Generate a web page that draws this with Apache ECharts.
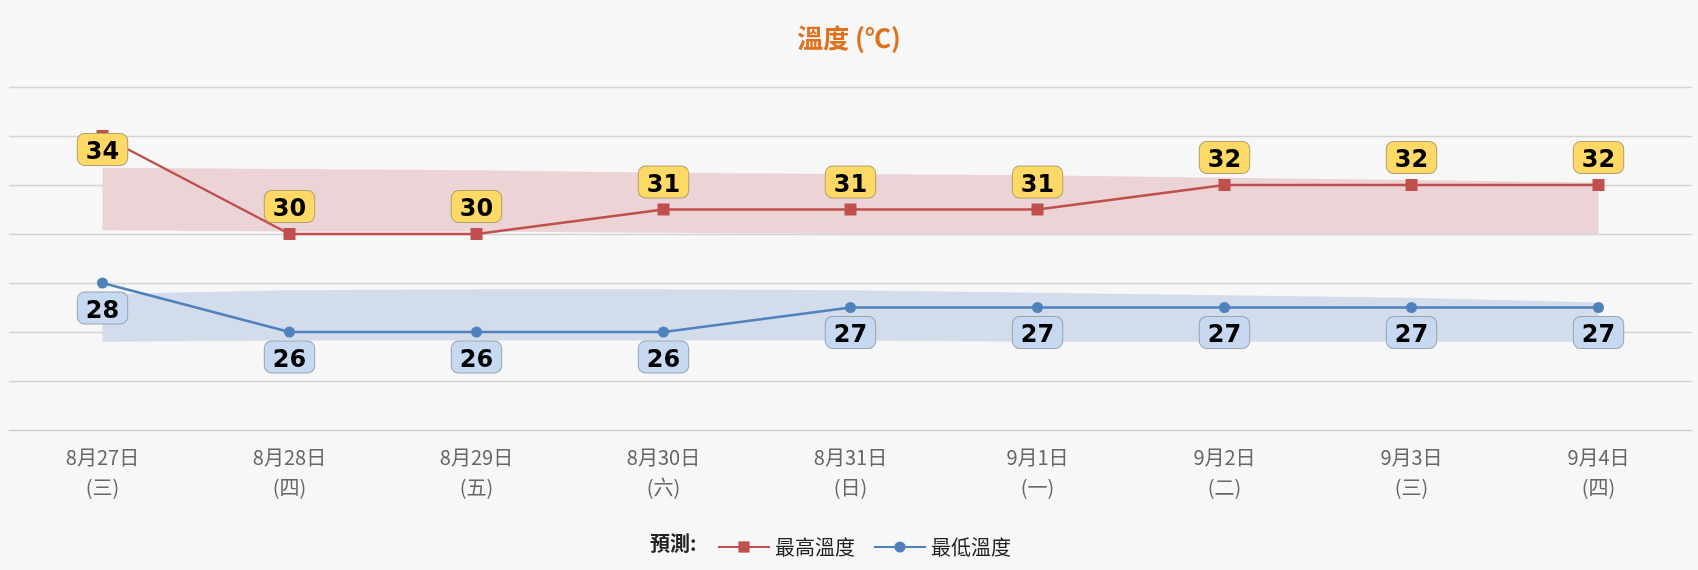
<!DOCTYPE html><html><head><meta charset="utf-8">
<script src="https://cdn.jsdelivr.net/npm/echarts@6/dist/echarts.min.js"></script>
<style>html,body{margin:0;background:#f7f7f7}#c{width:1698px;height:570px}</style></head><body><div id="c"></div>
<script>
const categories=['8月27日\n(三)','8月28日\n(四)','8月29日\n(五)','8月30日\n(六)','8月31日\n(日)','9月1日\n(一)','9月2日\n(二)','9月3日\n(三)','9月4日\n(四)'];
const maxTemp=[34,30,30,31,31,31,32,32,32];
const minTemp=[28,26,26,26,27,27,27,27,27];
const maxRangeHigh=[32.7,32.65,32.6,32.5,32.45,32.4,32.3,32.2,32.1];
const maxRangeLow=[30.15,30.1,30.1,30.05,30,30,30,30,30];
const minRangeHigh=[27.55,27.7,27.75,27.75,27.7,27.6,27.5,27.4,27.2];
const minRangeLow=[25.6,25.65,25.65,25.65,25.65,25.6,25.6,25.6,25.6];
const font='"Noto Sans CJK TC","Noto Sans",sans-serif';
const ch=echarts.init(document.getElementById('c'));
function band(low,high,color,stack){return [
 {type:'line',stack:stack,data:low,symbol:'none',lineStyle:{opacity:0},silent:true,z:1},
 {type:'line',stack:stack,data:high.map((v,i)=>+(v-low[i]).toFixed(2)),symbol:'none',lineStyle:{opacity:0},areaStyle:{color:color,opacity:1},silent:true,z:1}];}
const lbl={color:'#000',fontSize:24,fontWeight:'bold',fontFamily:'"DejaVu Sans",sans-serif',borderWidth:1,borderRadius:7,padding:[7,8,0,8]};
ch.setOption({
 backgroundColor:'#f7f7f7',
 title:{text:'溫度 (℃)',left:'center',top:20,textStyle:{color:'#e0701c',fontSize:26,fontWeight:'bold',fontFamily:font}},
 grid:{left:9,right:6,top:87,bottom:140},
 graphic:[{type:'text',left:650,top:533,style:{text:'預測:',font:'bold 20px '+font,fill:'#222'}}],
 legend:{top:532,left:712,itemWidth:52,itemHeight:14,itemGap:18,textStyle:{fontSize:20,color:'#222',fontFamily:font},data:['最高溫度','最低溫度']},
 xAxis:{type:'category',data:categories,boundaryGap:true,axisTick:{show:false},axisLine:{lineStyle:{color:'#c8d0dc'}},
  axisLabel:{color:'#666',fontSize:20,lineHeight:30,margin:12,fontFamily:font}},
 yAxis:{type:'value',min:22,max:36,interval:2,axisLabel:{show:false},axisLine:{show:false},axisTick:{show:false},splitLine:{lineStyle:{color:'#d4d4d4',width:1.3}}},
 series:[
  ...band(maxRangeLow,maxRangeHigh,'#ecd3d5','a'),
  ...band(minRangeLow,minRangeHigh,'#d3dcea','b'),
  {name:'最高溫度',type:'line',data:maxTemp.map((v,i)=>i===0?{value:v,label:{position:'bottom',distance:-8}}:v),symbol:'rect',symbolSize:12,color:'#c0504d',lineStyle:{width:2.5,color:'#c0504d'},z:3,
   label:Object.assign({show:true,position:'top',distance:6,backgroundColor:'#ffd966',borderColor:'#b0a070'},lbl)},
  {name:'最低溫度',type:'line',data:minTemp,symbol:'circle',symbolSize:11,color:'#4f81bd',lineStyle:{width:2.5,color:'#4f81bd'},z:3,
   label:Object.assign({show:true,position:'bottom',distance:4,backgroundColor:'#c6d9f1',borderColor:'#9aa3b0'},lbl)}
 ]});
</script></body></html>
